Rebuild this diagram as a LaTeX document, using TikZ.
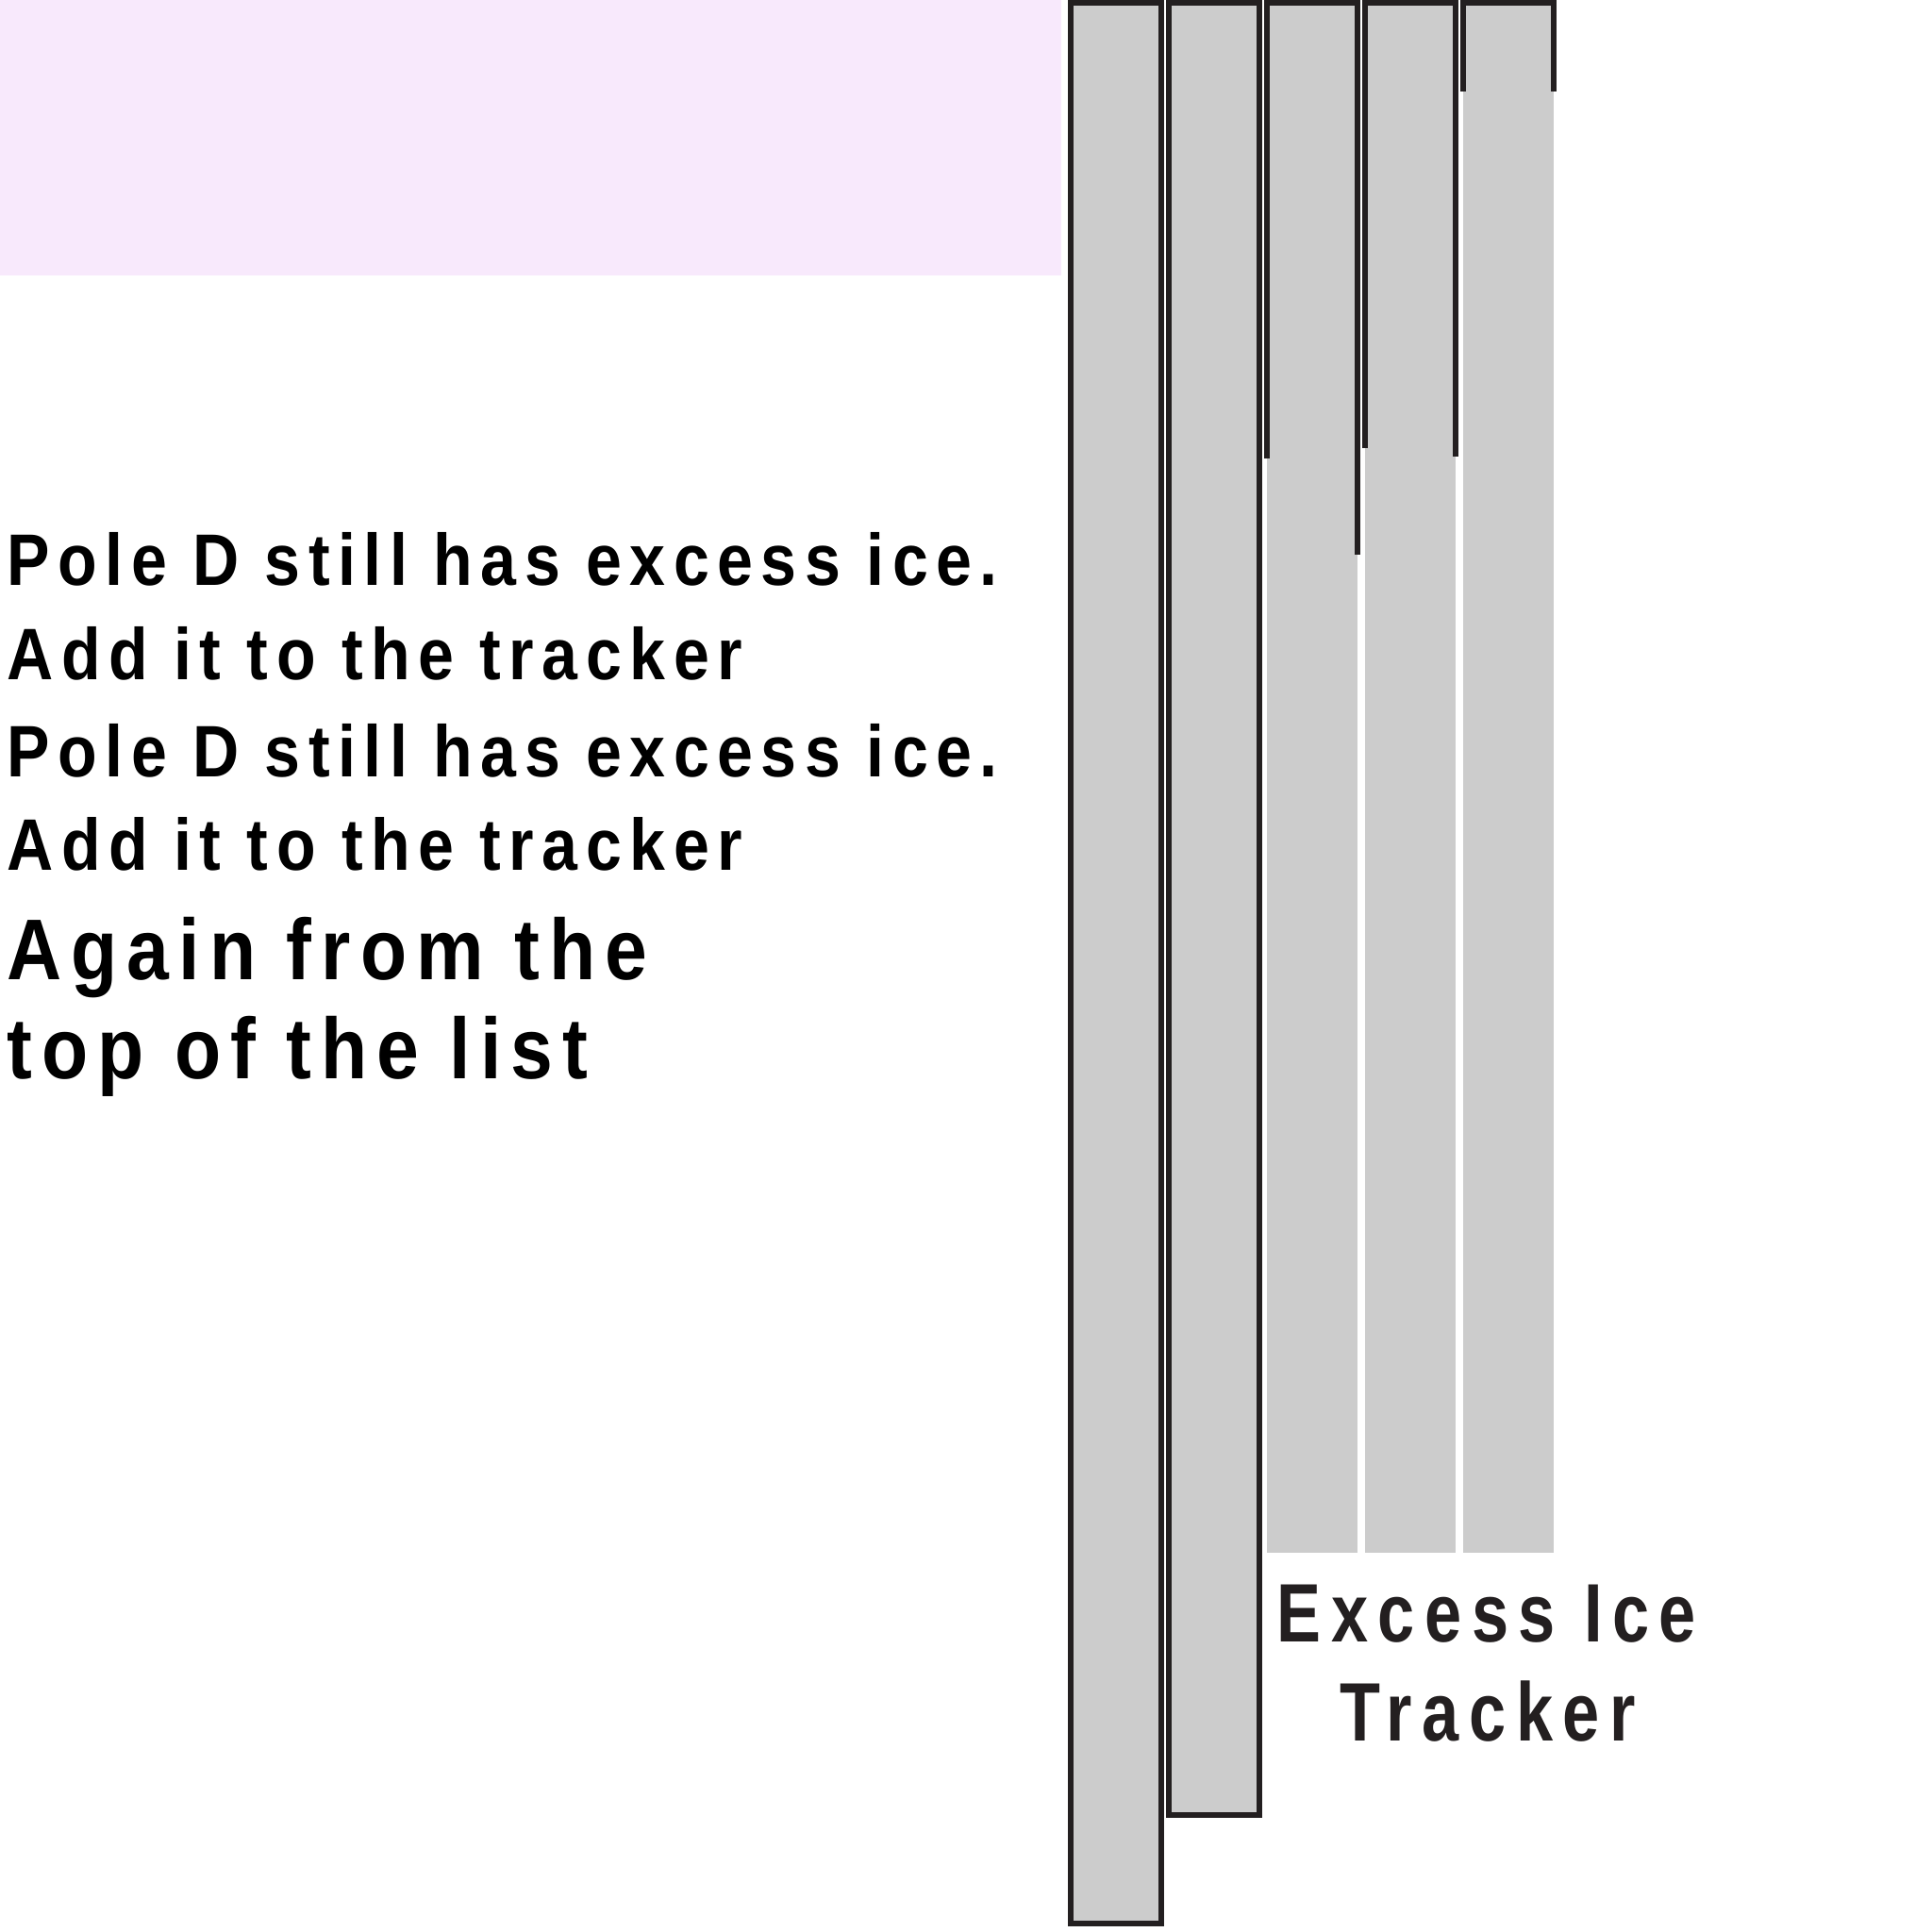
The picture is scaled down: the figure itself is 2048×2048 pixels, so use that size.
\documentclass[tikz,border=0pt]{standalone}
\usepackage{fontspec}
\usepackage{xcolor}
\newfontfamily\iceFont{Liberation Sans}[FakeStretch=0.88,LetterSpace=11]
\newfontfamily\trackFont{Liberation Sans}[FakeStretch=0.8,LetterSpace=12]
\definecolor{icegray}{HTML}{CCCCCC}
\definecolor{poleline}{HTML}{231F20}
\definecolor{panelpink}{HTML}{F8E9FC}

\begin{document}
\begin{tikzpicture}[x=0.01cm,y=-0.01cm,line join=miter,
  msg/.style={anchor=base west,inner sep=0pt,font=\iceFont\bfseries\fontsize{22}{22}\selectfont},
  msgbig/.style={msg,font=\iceFont\bfseries\fontsize{26}{26}\selectfont},
  tracker/.style={anchor=base,inner sep=0pt,text=poleline,font=\trackFont\bfseries\fontsize{25}{25}\selectfont},
  pole/.style={fill=icegray,draw=poleline,line width=1.6pt}]
\useasboundingbox[fill=white] (0,0) rectangle (2048,2048);
\fill[panelpink] (0,0) rectangle (1125,292);
% poles still in the list
\draw[pole] (1135,3) rectangle (1231,2039);
\draw[pole] (1239,3) rectangle (1335,1924);
% excess ice tracker
\foreach \i in {0,1,2} \fill[icegray] (1343+104*\i,3) rectangle (1439+104*\i,1646);
\draw[poleline,line width=1.6pt] (1343,486) -- (1343,3) -- (1439,3) -- (1439,588);
\draw[poleline,line width=1.6pt] (1447,475) -- (1447,3) -- (1543,3) -- (1543,484);
\draw[poleline,line width=1.6pt] (1551,97) -- (1551,3) -- (1647,3) -- (1647,97);
\node[msg] (msgA) at (7,620) {Pole D still has excess ice.};
\node[msg] (msgB) at (7,720) {Add it to the tracker};
\node[msg] (msgC) at (7,823) {Pole D still has excess ice.};
\node[msg] (msgD) at (7,922) {Add it to the tracker};
\node[msgbig] (againA) at (7,1038) {Again from the};
\node[msgbig] (againB) at (7,1143) {top of the list};
\node[tracker] (trkA) at (1576,1740) {Excess Ice};
\node[tracker] (trkB) at (1577,1845) {Tracker};
\end{tikzpicture}
\end{document}
